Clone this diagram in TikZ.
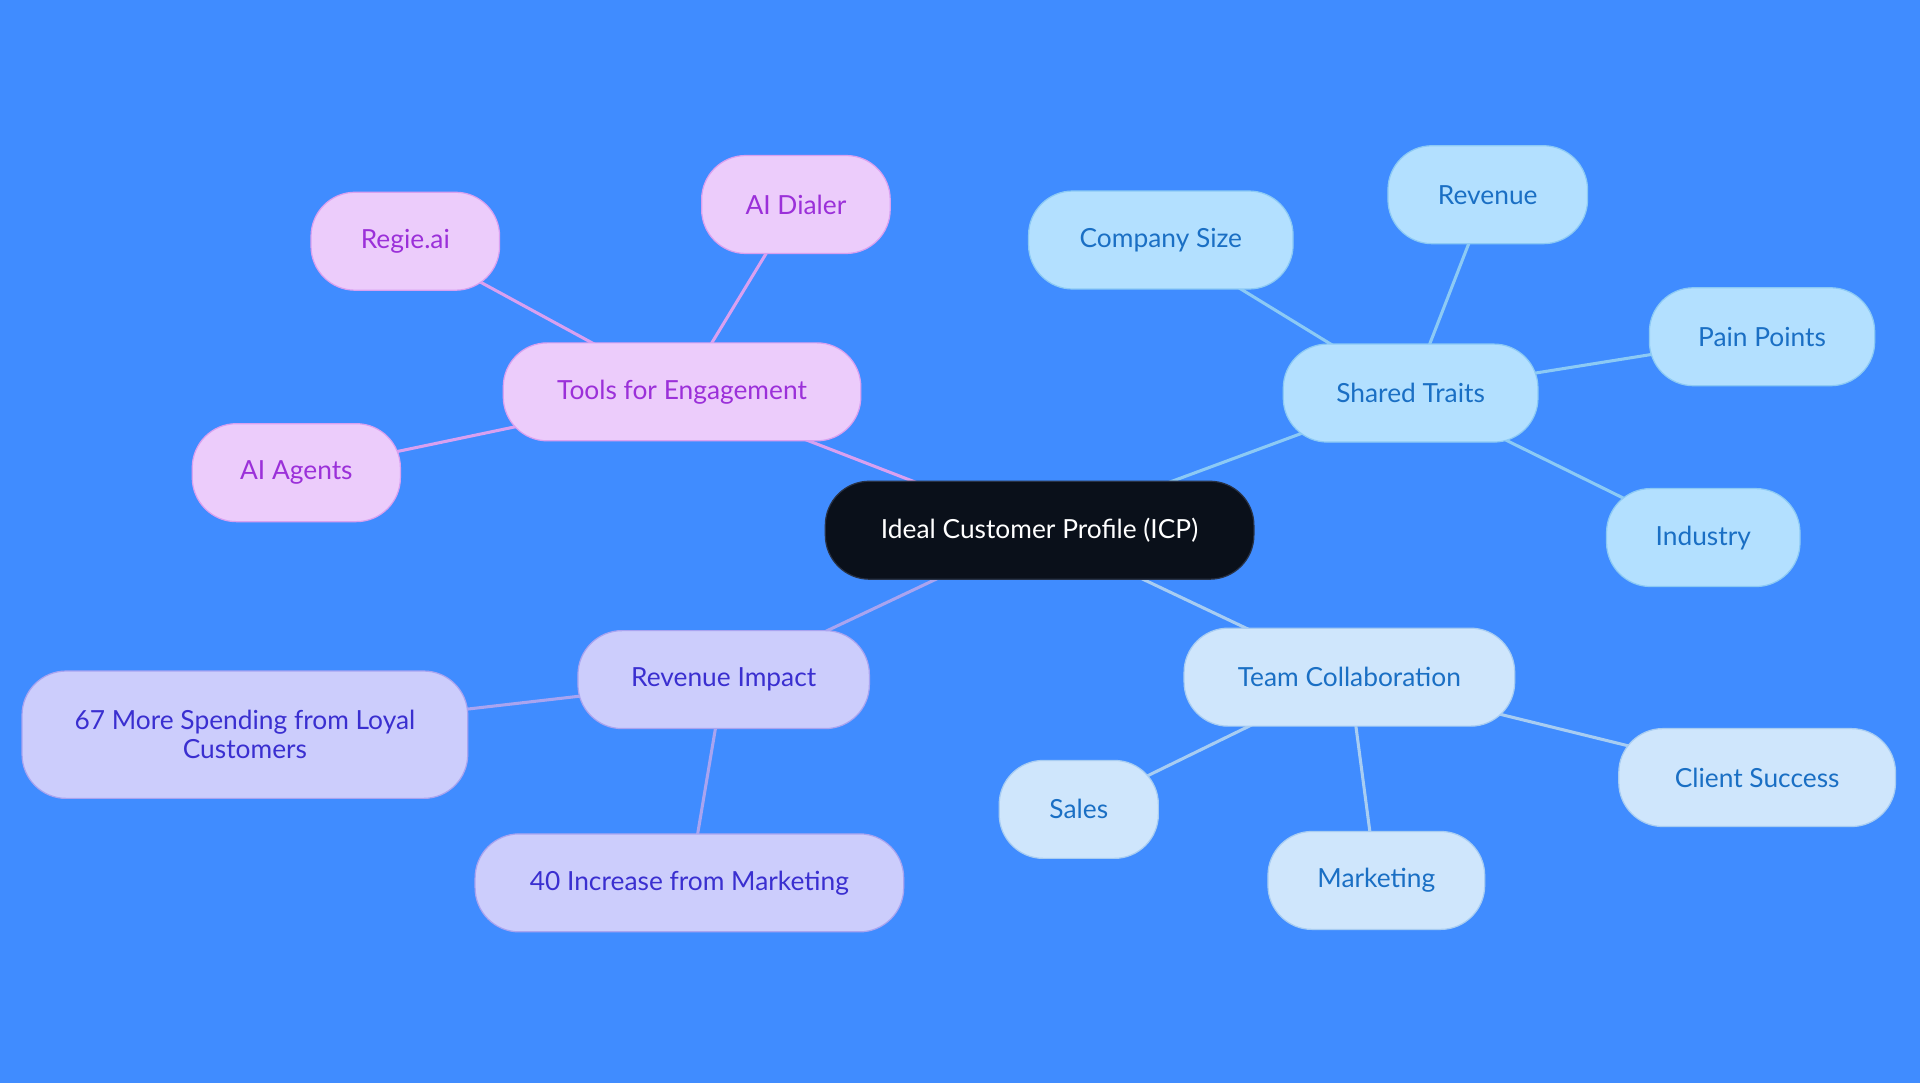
\documentclass[tikz,border=0pt]{standalone}
\usepackage{fontspec}
\setmainfont{Lato}
\pgfdeclarelayer{bg}\pgfdeclarelayer{edges}\pgfsetlayers{bg,edges,main}
\definecolor{bgc}{HTML}{408CFF}
\definecolor{dk}{HTML}{0A101A}\definecolor{dkb}{HTML}{283246}
\definecolor{pk}{HTML}{ECCCFB}\definecolor{pkb}{HTML}{D9A0F0}\definecolor{pkt}{HTML}{9B30D9}
\definecolor{bl}{HTML}{B3E0FF}\definecolor{blb}{HTML}{8CCAF5}\definecolor{blt}{HTML}{1A6FC4}
\definecolor{lb}{HTML}{CFE6FC}\definecolor{lbb}{HTML}{A8CDF2}
\definecolor{vi}{HTML}{CCCDFC}\definecolor{vib}{HTML}{A9A4F0}\definecolor{vit}{HTML}{3A2FD0}
\begin{document}
\begin{tikzpicture}[x=1pt,y=-1pt,
 box/.style={rounded corners=36pt,minimum height=80pt,inner sep=0pt,line width=1pt,font=\fontsize{21.5}{24}\selectfont,align=center},
 pink/.style={box,fill=pk,draw=pkb,text=pkt},
 blue/.style={box,fill=bl,draw=blb,text=blt},
 lblue/.style={box,fill=lb,draw=lbb,text=blt},
 viol/.style={box,fill=vi,draw=vib,text=vit},
 e/.style={line width=2.5pt}]
\begin{pgfonlayer}{bg}\fill[bgc] (0,0) rectangle (1568,884.4);\end{pgfonlayer}
\node[box,minimum width=350pt,fill=dk,draw=dkb,text=white] (icp) at (849,433) {Ideal Customer Profile (ICP)};
\node[pink,minimum width=292pt] (tools) at (557,320) {Tools for Engagement};
\node[pink,minimum width=154pt] (regie) at (331,197) {Regie.ai};
\node[pink,minimum width=154pt] (dialer) at (650,167) {AI Dialer};
\node[pink,minimum width=170pt] (agents) at (242,386) {AI Agents};
\node[blue,minimum width=208pt] (shared) at (1152,321) {Shared Traits};
\node[blue,minimum width=216pt] (size) at (948,196) {Company Size};
\node[blue,minimum width=163pt] (rev) at (1215,159) {Revenue};
\node[blue,minimum width=184pt] (pain) at (1439,275) {Pain Points};
\node[blue,minimum width=158pt] (ind) at (1391,439) {Industry};
\node[lblue,minimum width=270pt] (team) at (1102,553) {Team Collaboration};
\node[lblue,minimum width=130pt] (sales) at (881,661) {Sales};
\node[lblue,minimum width=177pt] (mkt) at (1124,719) {Marketing};
\node[lblue,minimum width=226pt] (cs) at (1435,635) {Client Success};
\node[viol,minimum width=238pt] (ri) at (591,555) {Revenue Impact};
\node[viol,minimum width=364pt,minimum height=104pt] (s67) at (200,600) {67 More Spending from Loyal\\Customers};
\node[viol,minimum width=350pt] (s40) at (563,721) {40 Increase from Marketing};
\begin{pgfonlayer}{edges}
\draw[e,draw=pkb] (icp.center) -- (tools.center) (tools.center) -- (regie.center) (tools.center) -- (dialer.center) (tools.center) -- (agents.center);
\draw[e,draw=blb] (icp.center) -- (shared.center) (shared.center) -- (size.center) (shared.center) -- (rev.center) (shared.center) -- (pain.center) (shared.center) -- (ind.center);
\draw[e,draw=lbb] (icp.center) -- (team.center) (team.center) -- (sales.center) (team.center) -- (mkt.center) (team.center) -- (cs.center);
\draw[e,draw=vib] (icp.center) -- (ri.center) (ri.center) -- (s67.center) (ri.center) -- (s40.center);
\end{pgfonlayer}
\end{tikzpicture}
\end{document}
